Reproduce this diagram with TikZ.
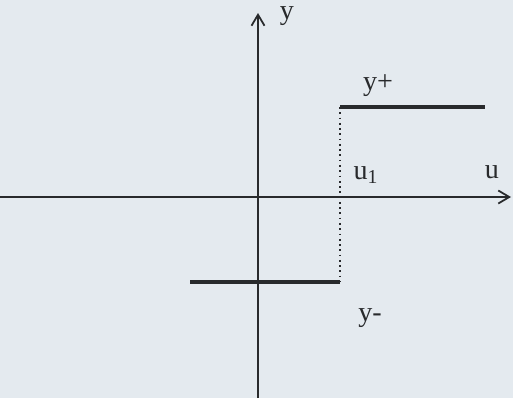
\documentclass[tikz,border=0pt]{standalone}
\usepackage{fontspec}
\setmainfont{Liberation Serif}
\definecolor{relayPaper}{RGB}{228,234,239}
\definecolor{relayInk}{RGB}{40,42,44}
\usetikzlibrary{arrows.meta,positioning}

\begin{document}
\begin{tikzpicture}[
  axis/.style={line width=1pt, relayInk, -{Straight Barb[length=2.2mm, width=2.6mm]}},
  branch/.style={line width=2pt, relayInk},
  guide/.style={line width=1pt, relayInk, dotted},
  lbl/.style={font=\fontsize{16}{19}\selectfont, text=relayInk, inner sep=1pt}
]
  % paper and frame of the picture
  \fill[relayPaper] (-5.16,-4.02) rectangle (5.10,3.94);
  \useasboundingbox (-5.16,-4.02) rectangle (5.10,3.94);

  \coordinate (O)     at (0,0);
  \coordinate (xl)    at (-5.16,0);
  \coordinate (xr)    at (5.06,0);
  \coordinate (yb)    at (0,-4.02);
  \coordinate (yt)    at (0,3.68);
  \coordinate (hiL)   at (1.64,1.80);
  \coordinate (hiR)   at (4.54,1.80);
  \coordinate (loL)   at (-1.36,-1.70);
  \coordinate (loR)   at (1.60,-1.70);
  \coordinate (ufoot) at (1.64,-1.70);

  % axes
  \draw[axis] (xl) -- (xr);
  \draw[axis] (yb) -- (yt);

  % relay characteristic
  \draw[guide] (hiL) -- (ufoot);
  \draw[branch] (hiL) -- (hiR);
  \draw[branch] (loL) -- (loR) -- (ufoot);

  \node[lbl] (ylab)  at (0.58,3.62)  {y};
  \node[lbl] (ulab)  at (4.68,0.50)  {u};
  \node[lbl] (u1lab) at (2.16,0.44)  {u\textsubscript{1}};
  \node[lbl] (yplus) at (2.40,2.22)  {y+};
  \node[lbl] (yminus) at (2.24,-2.42) {y-};
\end{tikzpicture}
\end{document}
